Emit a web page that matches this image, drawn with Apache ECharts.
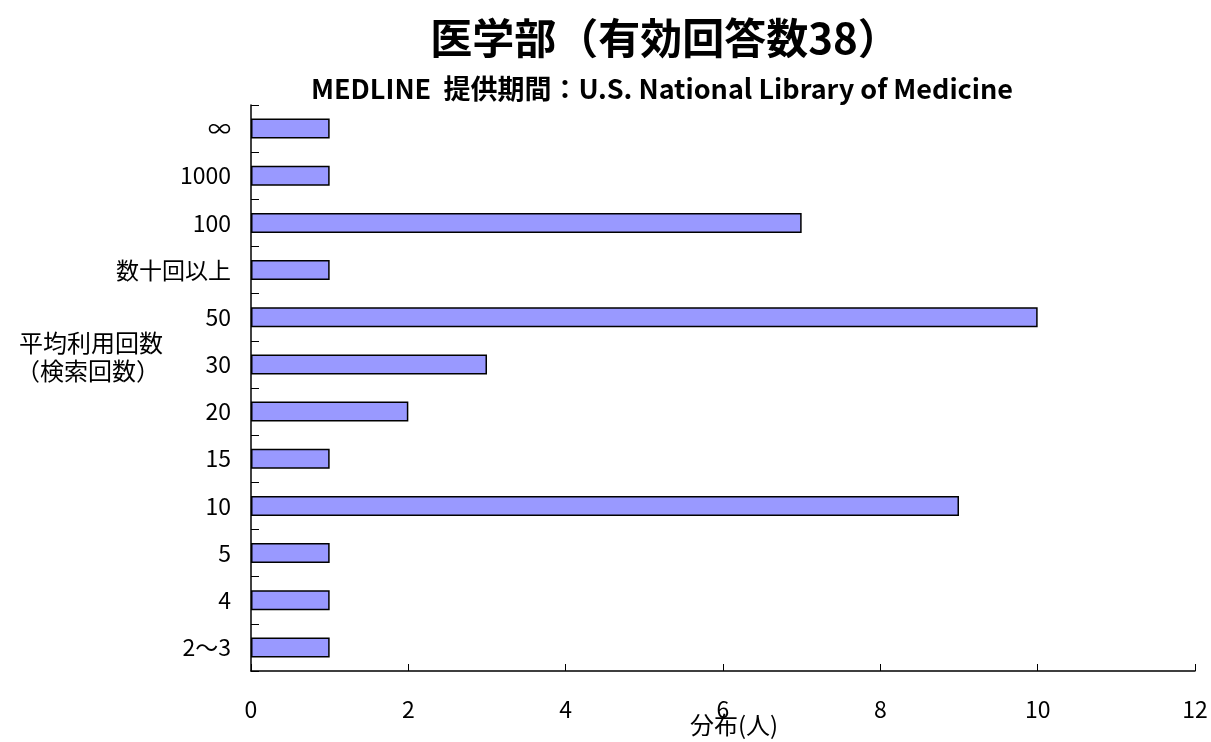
<!DOCTYPE html>
<html><head><meta charset="utf-8">
<script src="https://cdn.jsdelivr.net/npm/echarts@6/dist/echarts.min.js"></script>
<style>html,body{margin:0;padding:0;background:#fff}#c{width:1211px;height:742px}</style>
</head><body><div id="c"></div>
<script>
const categories = ['2〜3','4','5','10','15','20','30','50','数十回以上','100','1000','∞'];
const counts = [1,1,1,9,1,2,3,10,1,7,1,1];
const xTicks = [0,2,4,6,8,10,12];
const FONT = '"Noto Sans CJK JP", "Liberation Sans", sans-serif';
const chart = echarts.init(document.getElementById('c'));
chart.setOption({
  backgroundColor:'#fff',
  animation:false,
  title:[
    {text:'医学部（有効回答数38）', left:660, top:12, textAlign:'center',
     textStyle:{fontFamily:FONT, fontSize:42, fontWeight:'bold', color:'#000'}},
    {text:'MEDLINE  提供期間：U.S. National Library of Medicine', left:657, top:70, textAlign:'center',
     textStyle:{fontFamily:FONT, fontSize:27, fontWeight:'bold', color:'#000'}}
  ],
  graphic:[
    {type:'text', position:[91,343], style:{text:'平均利用回数', font:'24px '+FONT, fill:'#000', textAlign:'center', textVerticalAlign:'middle'}},
    {type:'text', position:[88,371], style:{text:'（検索回数）', font:'24px '+FONT, fill:'#000', textAlign:'center', textVerticalAlign:'middle'}},
    {type:'text', position:[734,725], style:{text:'分布(人)', font:'24px '+FONT, fill:'#000', textAlign:'center', textVerticalAlign:'middle'}}
  ],
  grid:{left:251, right:16, top:105, bottom:71, containLabel:false, outerBoundsMode:'none'},
  xAxis:{type:'value', min:0, max:12, interval:2,
    axisLine:{show:true, lineStyle:{color:'#000', width:1.5}},
    axisTick:{show:true, inside:true, length:7, lineStyle:{color:'#000'}},
    axisLabel:{margin:27, fontFamily:FONT, fontSize:23, color:'#000',
      formatter:v=>xTicks.includes(v)?String(v):''},
    splitLine:{show:false}},
  yAxis:{type:'category', data:categories,
    axisLine:{show:true, lineStyle:{color:'#000', width:1.5}},
    axisTick:{show:true, inside:true, length:8, lineStyle:{color:'#000'}},
    axisLabel:{margin:20, fontFamily:FONT, fontSize:23, color:'#000'},
    splitLine:{show:false}},
  series:[{type:'bar', data:counts, barWidth:20,
    itemStyle:{color:'#9999ff', borderColor:'#000', borderWidth:1.5}}]
});
</script></body></html>
